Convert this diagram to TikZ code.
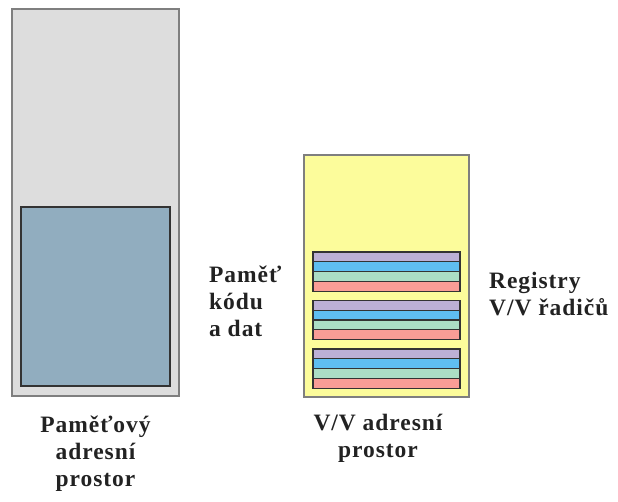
\documentclass[tikz,border=0pt]{standalone}
\usepackage{fontspec}
\setmainfont{Liberation Serif}
\newfontfamily\labelfont[LetterSpace=4]{Liberation Serif}
\usepackage{tikz}
\usetikzlibrary{positioning}

\definecolor{memGray}{HTML}{DDDDDD}
\definecolor{codeBlue}{HTML}{91ADBF}
\definecolor{ioYellow}{HTML}{FCFC9B}
\definecolor{regLav}{HTML}{BCB0D6}
\definecolor{regSky}{HTML}{5FBEF1}
\definecolor{regMint}{HTML}{ABDDC5}
\definecolor{regRed}{HTML}{F99D96}
\definecolor{edgeGray}{HTML}{7F7F7F}
\definecolor{edgeDark}{HTML}{333333}
\definecolor{inkText}{HTML}{222222}

\begin{document}
\begin{tikzpicture}[
        x=1pt, y=-1pt,
        space/.style={rectangle, draw=edgeGray, line width=1.4pt, inner sep=0pt, outer sep=0pt},
        block/.style={rectangle, draw=edgeDark, line width=1.2pt, inner sep=0pt, outer sep=0pt},
        label/.style={font=\labelfont\fontsize{23.5}{27}\selectfont\bfseries, text=inkText, inner sep=0pt},
    ]
        \useasboundingbox (0,0) rectangle (618,502);

        % pametovy prostor
        \node[space, fill=memGray, minimum width=167pt, minimum height=387pt] (memspace) at (95.5,202.5) {};
        \node[block, fill=codeBlue, minimum width=149pt, minimum height=179pt] (codemem) at (95.5,296.5) {};

        % V/V prostor
        \node[space, fill=ioYellow, minimum width=165pt, minimum height=242pt] (iospace) at (386.5,276) {};

        % registry radicu
        \foreach \gy [count=\g] in {252,300.5,349} {
            \foreach \c [count=\i] in {regLav,regSky,regMint,regRed} {
                \node[block, fill=\c, minimum width=147pt, minimum height=9.8pt] (reg\g\i) at (386.5,\gy+9.8*\i-4.9) {};
            }
        }

        % popisky
        \node[label, align=center, anchor=north] (memlabel) at (95.5,416) {Paměťový\\adresní\\prostor};
        \node[label, align=left, anchor=north west] (codelabel) at (209,266) {Paměť\\kódu\\a dat};
        \node[label, align=left, anchor=north west] (reglabel) at (489,272) {Registry\\V/V řadičů};
        \node[label, align=center, anchor=north] (iolabel) at (378,414) {V/V adresní\\prostor};
\end{tikzpicture}
\end{document}
